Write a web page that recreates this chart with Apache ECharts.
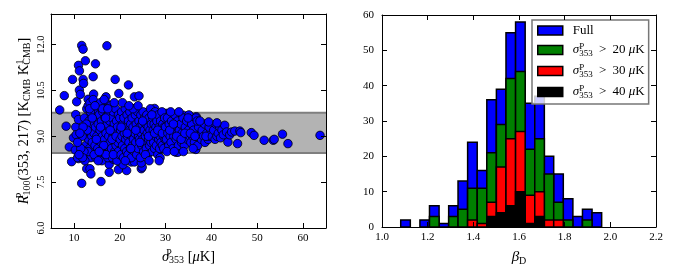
<!DOCTYPE html>
<html><head><meta charset="utf-8">
<script src="https://cdn.jsdelivr.net/npm/echarts@6/dist/echarts.min.js"></script>
<style>html,body{margin:0;padding:0;background:#fff}#c{width:677px;height:275px}</style>
</head><body><div id="c"></div>
<script>
// ---------- Left panel data: sigma_353^P [uK] vs R ratio ----------
const scatterPoints = [
[6.9,9.86],[7.9,10.33],[8.3,9.33],[9.0,8.65],[9.5,8.17],[9.7,10.86],[9.9,8.95],[10.4,9.71],[10.6,10.13],[11.0,8.27],
[11.0,11.32],[11.2,11.14],[11.2,10.51],[11.4,10.37],[11.5,9.25],[11.7,11.97],[12.0,11.85],[12.0,10.86],[12.1,10.73],[12.5,11.47],
[12.8,7.94],[13.1,10.21],[13.5,7.94],[13.7,7.77],[11.7,7.46],[14.2,10.95],[14.3,10.38],[14.7,11.37],[15.9,7.52],[17.0,10.29],
[17.2,11.96],[17.4,10.04],[17.7,8.08],[17.7,7.82],[19.0,10.86],[19.7,7.91],[19.8,10.4],[21.5,7.88],[21.9,10.68],[22.5,8.16],
[23.2,10.29],[24.2,10.32],[24.7,7.94],[24.9,7.99],[32.3,8.48],[32.7,8.48],[36.6,8.57],
[10.3,8.55],[10.8,8.3],[11.6,8.5],[11.9,8.4],[10.4,9.3],[11.0,9.55],[10.5,9.05],[18.0,8.3],[18.6,8.25],[20.0,8.35],[20.7,8.07],
[23.2,8.16],[24.7,8.13],[25.8,8.43],[21.2,9.82],[23.3,9.91],[25.6,9.77],[27.6,9.91],[30.1,9.75],[33.8,9.69],[35.2,9.66],[36.7,9.64],
[12.3,9.6],[12.5,9.1],[12.6,8.7],[12.8,9.9],[12.9,8.4],[13.0,9.3],[13.1,10.0],[13.2,8.9],[13.3,9.5],[13.4,8.6],
[13.5,10.1],[13.6,9.2],[13.7,8.3],[13.8,9.7],[13.9,9.0],[14.0,8.8],[14.1,9.4],[14.2,10.2],[14.3,8.5],[14.4,9.1],
[14.5,9.8],[14.6,8.7],[14.7,9.3],[14.8,8.3],[14.9,9.6],[15.0,9.0],[15.1,10.0],[15.2,8.6],[15.3,9.4],[15.4,8.9],
[15.5,9.7],[15.6,8.4],[15.7,9.2],[15.8,10.1],[15.9,8.8],[16.0,9.5],[16.1,8.2],[16.2,9.0],[16.3,9.8],[16.4,8.6],
[16.5,9.3],[16.6,10.2],[16.7,8.9],[16.8,9.6],[16.9,8.4],[17.0,9.1],[17.1,9.9],[17.2,8.7],[17.3,9.4],[17.4,8.3],
[17.5,9.7],[17.6,9.0],[17.7,8.5],[17.8,9.5],[17.9,8.8],[18.0,10.0],[18.1,9.2],[18.2,8.6],[18.3,9.6],[18.4,8.3],
[18.5,9.0],[18.6,9.8],[18.7,8.9],[18.8,9.4],[18.9,8.5],[19.0,9.1],[19.1,9.9],[19.2,8.7],[19.3,9.5],[19.4,8.2],
[19.5,9.3],[19.6,8.8],[19.7,9.7],[19.8,9.0],[19.9,8.4],
[12.4,8.2],[12.7,9.4],[13.1,8.5],[13.6,9.8],[14.0,9.6],[14.4,8.4],[14.9,8.9],[15.3,8.2],[15.8,9.3],[16.2,9.9],
[16.5,8.7],[17.0,8.4],[17.4,9.9],[17.9,9.2],[18.3,8.9],[18.8,10.1],[19.2,9.0],[19.7,8.5],[12.2,8.5],[12.9,9.2],
[13.4,9.9],[14.6,10.0],[15.5,8.5],[16.9,9.6],[18.6,8.4],[11.8,9.0],[11.5,8.6],[12.0,9.3],[11.9,8.3],[11.3,9.1],
[10.8,8.8],[11.1,8.4],
[20.0,9.6],[20.1,8.9],[20.2,9.2],[20.3,8.4],[20.4,9.8],[20.5,9.0],[20.6,8.7],[20.7,9.4],[20.8,8.3],[20.9,9.6],
[21.0,9.1],[21.1,8.6],[21.2,9.9],[21.3,8.9],[21.4,9.3],[21.5,8.5],[21.6,9.7],[21.7,9.0],[21.8,8.4],[21.9,9.5],
[22.0,8.8],[22.1,9.2],[22.2,9.8],[22.3,8.6],[22.4,9.4],[22.5,8.3],[22.6,9.0],[22.7,9.6],[22.8,8.7],[22.9,9.3],
[23.0,8.9],[23.1,9.9],[23.2,8.5],[23.3,9.1],[23.4,9.7],[23.5,8.8],[23.6,9.4],[23.7,8.4],[23.8,9.2],[23.9,9.8],
[24.0,8.6],[24.1,9.0],[24.2,9.5],[24.3,8.9],[24.4,9.3],[24.5,8.3],[24.6,9.7],[24.7,9.1],[24.8,8.7],[24.9,9.4],
[25.0,8.9],[25.1,9.8],[25.2,8.5],[25.3,9.2],[25.4,9.6],[25.5,8.8],[25.6,9.0],[25.7,9.4],[25.8,8.6],[25.9,9.7],
[26.0,9.1],[26.1,8.4],[26.2,9.3],[26.3,8.9],[26.4,9.6],[26.5,8.7],[26.6,9.2],[26.7,9.9],[26.8,8.8],[26.9,9.4],
[27.0,9.0],[27.1,8.5],[27.2,9.6],[27.3,9.2],[27.4,8.8],[27.5,9.4],[27.6,8.6],[27.7,9.8],[27.8,9.0],[27.9,9.3],
[28.0,8.7],[28.1,9.5],[28.2,9.1],[28.3,8.4],[28.4,9.7],[28.5,8.9],[28.6,9.3],[28.7,8.6],[28.8,9.0],[28.9,9.5],
[29.0,8.8],[29.1,9.2],[29.2,9.8],[29.3,8.7],[29.4,9.4],[29.5,9.0],[29.6,8.6],[29.7,9.3],[29.8,9.6],[29.9,8.9],
[20.3,9.3],[21.2,8.2],[21.6,9.1],[22.4,8.6],[22.9,9.9],[23.5,9.2],[24.4,8.8],[25.0,9.5],[25.6,8.4],[26.3,9.0],
[27.0,9.7],[27.6,9.1],[28.3,9.2],[28.8,8.3],[29.3,9.1],[20.6,10.1],[22.0,10.0],[24.0,10.0],[26.4,8.2],[28.6,8.2],
[30.0,9.3],[30.2,8.9],[30.4,9.6],[30.5,9.1],[30.7,8.7],[30.8,9.4],[31.0,9.0],[31.2,8.8],[31.3,9.5],[31.5,9.2],
[31.6,8.6],[31.8,9.0],[32.0,9.7],[32.1,9.3],[32.3,8.9],[32.5,9.1],[32.6,9.5],[32.8,8.7],[33.0,9.2],[33.1,9.0],
[33.3,9.4],[33.5,8.8],[33.6,9.1],[33.8,9.6],[34.0,9.0],[34.1,8.7],[34.3,9.3],[34.5,9.0],[34.6,9.5],[34.8,8.9],
[35.0,9.2],[35.1,9.7],[35.3,9.0],[35.5,8.8],[35.7,9.4],[35.9,9.0],[36.1,9.2],[36.3,8.8],[36.6,9.6],[36.8,9.0],
[37.0,8.7],[37.2,9.3],[37.5,9.0],[37.8,8.9],[38.0,9.2],[38.3,9.0],[38.6,8.8],[39.0,9.1],[39.3,8.9],[39.6,9.0],
[39.9,9.2],[30.3,8.5],[31.1,9.8],[31.9,8.5],[32.9,9.8],[33.9,8.5],[34.9,9.6],[36.0,8.6],[36.9,9.5],[38.5,9.4],
[37.5,9.5],[30.9,9.2],[31.7,9.4],[32.4,9.0],[33.4,8.9],[34.2,9.1],[35.4,9.1],[36.4,9.0],[38.8,9.0],[39.5,9.3],
[40.2,9.0],[40.5,9.2],[40.8,8.9],[41.0,9.4],[41.2,9.0],[41.5,9.1],[41.8,9.3],[42.0,8.95],[42.3,9.2],[42.6,9.05],
[42.9,9.36],[43.3,9.14],[43.6,8.81],[44.0,9.05],[44.4,9.14],[45.1,9.17],[45.7,8.76],[46.2,9.17],[46.4,9.12],[48.7,9.12],
[49.3,9.03],[51.5,8.87],[53.5,8.87],[53.7,8.9],[55.5,9.07],[56.7,8.76],[63.7,9.03],[41.2,9.44],[39.4,9.47]
];
const bandRange = [8.45, 9.77];
const leftXRange = [5, 65];
const leftYRange = [6, 13];
const leftXTicks = [10, 20, 30, 40, 50, 60];
const leftYTicks = [6.0, 7.5, 9.0, 10.5, 12.0];

// ---------- Right panel data: beta_D histograms ----------
const binEdges = [1.082,1.124,1.166,1.208,1.250,1.292,1.333,1.375,1.417,1.459,1.501,1.543,1.585,1.627,1.669,1.711,1.752,1.794,1.836,1.878,1.920,1.962];
const countFull = [2,0,2,6,1,6,13,24,16,36,39,55,58,35,37,20,15,8,3,5,4];
const count20   = [0,0,0,3,0,3,5,11,11,21,29,42,44,22,25,15,7,2,0,2,0];
const count30   = [0,0,0,0,0,0,0,2,1,7,17,25,27,9,10,2,2,0,0,0,0];
const count40   = [0,0,0,0,0,0,0,0,0,3,4,6,10,1,3,0,0,0,0,0,0];
const rightXRange = [1.0, 2.2];
const rightYRange = [0, 60];
const rightXTicks = [1.0, 1.2, 1.4, 1.6, 1.8, 2.0, 2.2];
const rightYTicks = [0, 10, 20, 30, 40, 50, 60];
const histNames = ['Full', 'gt20', 'gt30', 'gt40'];
const histColors = ['#0000ff', '#008000', '#ff0000', '#000000'];

const FONT = "'Liberation Serif','DejaVu Serif',serif";
const richBase = (fs) => ({
  g: {width: 5},
  sp: {width: 3},
  n: {fontFamily: FONT, fontSize: fs, color: '#000', verticalAlign: 'middle'},
  it: {fontFamily: FONT, fontSize: fs, fontStyle: 'italic', color: '#000', verticalAlign: 'middle'},
  sup: {fontFamily: FONT, fontSize: Math.round(fs * 0.68), color: '#000', padding: [0, 0, Math.round(fs * 0.55), 0], width: 0, verticalAlign: 'middle'},
  subw: {fontFamily: FONT, fontSize: Math.round(fs * 0.68), color: '#000', padding: [Math.round(fs * 0.5), 0, 0, 0], verticalAlign: 'middle'}
});
const legendLabels = {
  'Full': '{g|}{n|Full}',
  'gt20': '{g|}{it|σ}{sup|P}{subw|353}{sp|}{n| > }{sp|}{n|20 }{it|μ}{n|K}',
  'gt30': '{g|}{it|σ}{sup|P}{subw|353}{sp|}{n| > }{sp|}{n|30 }{it|μ}{n|K}',
  'gt40': '{g|}{it|σ}{sup|P}{subw|353}{sp|}{n| > }{sp|}{n|40 }{it|μ}{n|K}'
};

function axis(gi, pos, range, ticks, showLabels, fmt, extra) {
  return Object.assign({
    type: 'value', gridIndex: gi, position: pos, min: range[0], max: range[1], z: 10,
    splitLine: {show: false}, nameMoveOverlap: false,
    axisLine: {show: true, onZero: false, lineStyle: {color: '#000', width: 1}},
    axisTick: {show: true, inside: true, length: 5, customValues: ticks, lineStyle: {color: '#000', width: 1}},
    axisLabel: {show: showLabels, customValues: ticks, formatter: fmt, fontFamily: FONT, fontSize: 11, color: '#000', margin: 5}
  }, extra || {});
}
const f1 = v => Number(v).toFixed(1);
const f0 = v => String(Math.round(v));

function histSeries(idx, counts) {
  const data = [];
  counts.forEach((c, i) => { if (c > 0) data.push([binEdges[i], binEdges[i + 1], c]); });
  const color = histColors[idx];
  return {
    type: 'custom', name: histNames[idx], xAxisIndex: 2, yAxisIndex: 2, z: 2 + idx * 0.01,
    data: data, encode: {x: [0, 1], y: 2}, itemStyle: {color: color},
    renderItem: function (params, api) {
      const p0 = api.coord([api.value(0), api.value(2)]);
      const p1 = api.coord([api.value(1), 0]);
      return {type: 'rect', shape: {x: p0[0], y: p0[1], width: p1[0] - p0[0], height: p1[1] - p0[1]},
        style: {fill: color, stroke: '#000', lineWidth: 1.5}};
    }
  };
}

const chart = echarts.init(document.getElementById('c'), null, {renderer: 'canvas'});
const leftY = axis(0, 'left', leftYRange, leftYTicks, true, f1, {
  name: '{it|R}{sup|P}{subw|100}{n|(353, 217) [K}{subw|CMB}{n| K}{sup|−1}{subw|CMB}{n|]}',
  nameLocation: 'middle', nameGap: 18, nameRotate: 90,
  nameTextStyle: {rich: richBase(14.5)}
});
leftY.axisLabel.rotate = 90;
leftY.axisLabel.margin = 4;
leftY.axisLabel.fontSize = 10.5;
const rightY = axis(1, 'left', rightYRange, rightYTicks, true, f0);
rightY.axisLabel.margin = 8;
chart.setOption({
  animation: false,
  backgroundColor: '#fff',
  grid: [
    {left: 51, top: 14, width: 275, height: 214},
    {left: 382, top: 15, width: 274, height: 212}
  ],
  xAxis: [
    axis(0, 'bottom', leftXRange, leftXTicks, true, f0, {
      name: '{it|σ}{sup|P}{subw|353}{n| [}{it|μ}{n|K]}', nameLocation: 'middle', nameGap: 20,
      nameTextStyle: {rich: richBase(14.5)}
    }),
    axis(0, 'top', leftXRange, leftXTicks, false, f0),
    axis(1, 'bottom', rightXRange, rightXTicks, true, f1, {
      name: '{it|β}{subw|D}', nameLocation: 'middle', nameGap: 21,
      nameTextStyle: {rich: richBase(15)}
    }),
    axis(1, 'top', rightXRange, rightXTicks, false, f1)
  ],
  yAxis: [
    leftY,
    axis(0, 'right', leftYRange, leftYTicks, false, f1),
    rightY,
    axis(1, 'right', rightYRange, rightYTicks, false, f0)
  ],
  legend: {
    show: true, orient: 'vertical', left: 532, top: 20, selectedMode: false,
    backgroundColor: 'rgba(255,255,255,0.8)', borderColor: '#777', borderWidth: 1.5,
    padding: [4, 4, 4, 5], itemWidth: 25, itemHeight: 9, itemGap: 5, icon: 'rect',
    data: histNames.map((n, i) => ({name: n, itemStyle: {color: histColors[i], borderColor: '#000', borderWidth: 1.5}})),
    formatter: name => legendLabels[name],
    textStyle: {fontFamily: FONT, fontSize: 13, color: '#000', rich: richBase(13)}
  },
  series: [
    {
      type: 'custom', name: 'band', xAxisIndex: 0, yAxisIndex: 0, z: 1, silent: true,
      data: [[leftXRange[0], leftXRange[1], bandRange[0], bandRange[1]]],
      encode: {x: [0, 1], y: [2, 3]},
      renderItem: function (params, api) {
        const a = api.coord([api.value(0), api.value(3)]);
        const b = api.coord([api.value(1), api.value(2)]);
        return {type: 'group', children: [
          {type: 'rect', shape: {x: a[0], y: a[1], width: b[0] - a[0], height: b[1] - a[1]}, style: {fill: '#b3b3b3'}},
          {type: 'line', shape: {x1: a[0], y1: a[1], x2: b[0], y2: a[1]}, style: {stroke: '#7f7f7f', lineWidth: 2}},
          {type: 'line', shape: {x1: a[0], y1: b[1], x2: b[0], y2: b[1]}, style: {stroke: '#7f7f7f', lineWidth: 2}}
        ]};
      }
    },
    {
      type: 'scatter', name: 'points', xAxisIndex: 0, yAxisIndex: 0, z: 3,
      data: scatterPoints, symbol: 'circle', symbolSize: 8.5,
      itemStyle: {color: '#0000ff', borderColor: '#000', borderWidth: 0.8, opacity: 1}
    },
    histSeries(0, countFull),
    histSeries(1, count20),
    histSeries(2, count30),
    histSeries(3, count40)
  ]
});
</script></body></html>
